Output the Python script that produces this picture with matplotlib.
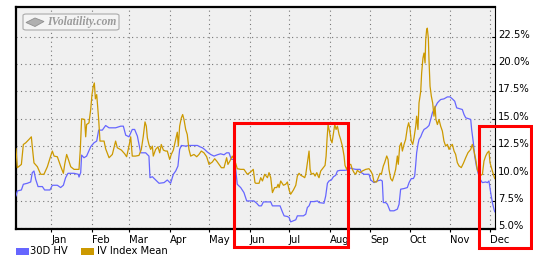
import numpy as np
import pandas as pd
import matplotlib
matplotlib.use("Agg")
import matplotlib.pyplot as plt
from matplotlib.patches import Rectangle, FancyBboxPatch, Polygon
from matplotlib.transforms import ScaledTranslation

# days counted from 2010-12-05, values in %
hv_day = [0, 1, 4.1, 5.6, 8.6, 11.2, 12.4, 13.7, 15.0, 16.8, 20.1, 21.8, 25.9, 27.7, 31.5, 34.0, 36.1,
          37.8, 39.6, 44.2, 47.5, 48.0, 49.3, 50.0, 51.8, 53.8, 56.9, 59.4, 61.5, 63.0, 65.8, 68.3,
          70.9, 75.9, 79.8, 81.8, 83.6, 86.1, 88.6, 90.4, 92.5, 95.0, 98.8, 101.3, 102.1, 103.9,
          106.4, 109.0, 112.8, 115.3, 117.8, 119.9, 121.7, 123.4, 124.7, 126.0, 129.3, 131.8, 135.6,
          138.2, 140.2, 142.0, 143.7, 145.8, 148.3, 150.9, 153.4, 155.9, 158.5, 160.5, 162.3, 164.1,
          166.1, 167.4, 168.6, 171.2, 173.7, 175.8, 178.8, 181.3, 183.4, 185.2, 187.0, 188.5, 191.6,
          194.1, 195.4, 197.9, 201.2, 203.0, 204.3, 206.8, 208.1, 209.3, 211.4, 213.2, 214.4, 217.0,
          219.0, 220.8, 222.0, 223.3, 224.6, 227.1, 229.7, 230.9, 234.7, 236.0, 237.3, 238.5, 240.3,
          241.9, 243.6, 244.9, 246.9, 250.0, 252.5, 253.8, 256.3, 258.9, 262.2, 263.2, 265.2, 269.0,
          270.3, 272.8, 275.3, 277.9, 279.1, 279.9, 281.7, 283.0, 285.0, 288.0, 290.6, 291.9, 293.1,
          295.7, 298.2, 299.5, 301.2, 302.8, 303.8, 304.6, 305.3, 306.3, 307.1, 308.4, 309.6, 310.9,
          312.9, 314.7, 316.0, 317.3, 318.5, 319.8, 321.1, 322.3, 323.6, 326.1, 328.7, 330.7, 332.5,
          334.3, 335.8, 338.3, 340.1, 341.4, 342.7, 345.2, 346.5, 347.2, 348.5, 349.5, 350.8, 352.0,
          353.5, 355.4, 357.9, 359.2, 360.4, 361.7, 363.0, 364.2, 364.8]
hv_val = [7.97, 8.42, 8.51, 9.03, 9.12, 9.24, 10.09, 10.24, 9.48, 8.82, 8.82, 8.51, 8.51, 8.94, 8.94,
          8.73, 8.94, 9.63, 10.03, 10.03, 9.94, 9.69, 10.09, 11.69, 11.45, 11.6, 12.45, 12.81, 12.97,
          13.97, 13.97, 14.39, 14.18, 14.18, 14.33, 14.33, 13.51, 13.36, 14.03, 14.03, 13.42, 11.9,
          11.9, 11.6, 9.63, 9.72, 9.42, 9.12, 9.18, 9.42, 9.12, 9.94, 10.24, 10.69, 12.21, 12.57,
          12.51, 12.57, 12.57, 12.57, 12.45, 12.36, 12.21, 11.97, 11.75, 11.6, 11.72, 11.81, 11.72,
          11.9, 11.9, 11.3, 11.3, 10.39, 9.03, 8.73, 8.27, 7.51, 7.51, 7.51, 7.3, 7.06, 7.06, 7.42,
          7.42, 7.42, 7.06, 7.06, 7.06, 6.51, 6.15, 6.09, 6.0, 5.6, 5.7, 5.79, 6.15, 6.15, 6.15, 6.3,
          6.91, 7.06, 7.45, 7.45, 7.51, 7.36, 7.3, 7.97, 9.12, 9.33, 9.42, 9.72, 9.85, 10.24, 10.3,
          10.3, 10.33, 10.54, 10.45, 10.39, 10.39, 10.09, 9.94, 9.94, 9.42, 9.18, 9.33, 9.42, 9.33,
          7.36, 7.36, 7.21, 6.61, 6.61, 6.76, 7.21, 8.58, 8.64, 8.73, 9.18, 9.55, 9.55, 9.79, 10.85,
          11.91, 12.67, 13.12, 13.36, 13.73, 14.03, 14.18, 14.39, 14.94, 15.55, 15.85, 16.15, 16.45,
          16.61, 16.76, 16.82, 17.0, 17.0, 16.82, 16.61, 16.0, 15.91, 15.85, 15.39, 15.09, 15.0,
          14.94, 14.03, 12.82, 11.61, 10.7, 10.09, 9.5, 9.18, 9.24, 9.18, 9.33, 8.27, 7.36, 6.76, 6.52]

iv_day = [0, 1.0, 4.1, 5.6, 7.4, 9.9, 11.7, 12.4, 13.7, 16.3, 18.8, 21.3, 23.9, 26.4, 27.7, 29.0,
          31.5, 34.0, 36.1, 37.1, 38.6, 39.9, 41.7, 44.2, 48.0, 49.0, 50.0, 52.3, 53.1, 53.8, 55.6,
          56.9, 57.9, 58.9, 59.7, 60.5, 61.5, 62.2, 63.0, 64.0, 67.1, 68.3, 70.9, 73.4, 75.9, 77.2,
          80.3, 82.8, 84.3, 86.1, 87.4, 88.6, 91.0, 93.7, 95.5, 97.0, 98.3, 99.3, 100.1, 101.3,
          102.6, 103.9, 104.6, 106.4, 108.2, 109.5, 110.7, 112.3, 114.0, 115.3, 117.1, 118.3, 119.9,
          121.7, 122.9, 123.7, 124.7, 126.0, 127.0, 128.0, 129.3, 130.5, 131.8, 133.1, 135.6, 137.7,
          139.4, 141.2, 143.2, 145.3, 147.1, 149.6, 151.4, 152.9, 154.7, 156.5, 158.5, 160.5, 161.5,
          163.0, 164.8, 166.1, 167.4, 168.6, 171.2, 173.7, 176.3, 178.8, 180.8, 182.1, 182.7, 185.2,
          186.5, 187.8, 189.5, 191.6, 192.8, 194.1, 195.4, 197.1, 198.7, 199.7, 200.5, 201.7, 203.8,
          205.5, 206.8, 208.1, 209.3, 211.4, 213.2, 214.4, 215.7, 217.0, 219.0, 220.0, 220.8, 222.0,
          223.3, 224.1, 225.1, 226.6, 227.9, 229.2, 230.2, 230.9, 232.2, 234.2, 235.5, 236.3, 237.0,
          237.8, 238.8, 239.8, 240.8, 241.9, 242.9, 243.9, 244.9, 246.2, 247.4, 248.7, 250.0, 250.7,
          252.0, 253.3, 255.1, 256.3, 257.6, 258.9, 260.1, 262.2, 263.9, 266.5, 269.0, 270.3, 271.6,
          272.8, 274.8, 275.8, 277.4, 278.4, 279.9, 280.9, 282.5, 283.5, 284.2, 285.5, 286.8, 288.0,
          289.3, 290.6, 291.3, 292.4, 293.6, 294.4, 295.7, 296.9, 298.2, 299.2, 300.2, 301.2, 302.3,
          303.3, 304.6, 305.3, 306.3, 307.1, 308.4, 309.1, 310.1, 310.9, 311.7, 312.2, 312.9, 313.4,
          314.2, 314.7, 315.5, 316.5, 317.5, 318.5, 319.3, 320.0, 321.1, 322.3, 323.6, 324.9, 326.1,
          327.4, 328.7, 330.0, 331.2, 332.5, 333.8, 335.0, 336.3, 337.6, 339.3, 340.9, 342.7, 344.4,
          346.5, 347.7, 349.0, 350.3, 351.5, 353.5, 355.4, 356.6, 357.9, 359.2, 360.4, 361.2, 363.0,
          364.8]
iv_val = [12.27, 10.54, 10.84, 12.66, 12.81, 13.12, 13.36, 12.45, 10.98, 10.63, 9.94, 9.94, 10.63,
          11.6, 12.06, 11.6, 11.54, 10.69, 10.03, 10.84, 11.75, 11.3, 10.63, 10.39, 10.39, 12.21,
          15.0, 14.94, 13.36, 14.48, 14.63, 15.84, 17.21, 17.97, 18.27, 16.82, 17.21, 16.15, 14.94,
          12.97, 12.97, 12.27, 11.45, 11.75, 12.97, 12.36, 12.15, 11.81, 11.54, 12.51, 13.36, 11.6,
          11.6, 11.66, 12.21, 13.42, 14.72, 14.33, 13.27, 12.66, 12.21, 12.51, 11.6, 12.21, 12.45,
          11.9, 12.66, 12.15, 12.06, 12.06, 11.3, 11.75, 12.15, 13.12, 13.78, 12.51, 14.33, 15.09,
          15.39, 14.94, 14.03, 13.57, 12.21, 11.6, 11.75, 11.54, 11.75, 12.06, 11.9, 11.54, 10.84,
          11.06, 11.36, 11.15, 10.84, 10.54, 10.54, 11.45, 10.84, 11.15, 11.6, 11.3, 10.94, 10.45,
          10.39, 10.39, 9.94, 10.15, 10.39, 9.18, 9.12, 9.12, 9.63, 9.33, 9.94, 9.63, 10.09, 9.63,
          8.27, 8.73, 8.73, 9.03, 8.73, 9.33, 8.94, 9.03, 9.24, 8.51, 8.12, 8.51, 8.94, 9.78, 10.03,
          9.85, 9.72, 9.63, 9.94, 10.99, 12.06, 10.39, 9.94, 10.03, 9.78, 10.09, 9.78, 9.63, 10.24,
          10.54, 10.75, 11.6, 13.12, 14.48, 13.88, 13.12, 12.81, 13.72, 14.48, 14.03, 14.33, 13.57,
          13.12, 12.51, 11.6, 10.75, 10.39, 10.84, 10.84, 10.39, 10.09, 9.94, 10.3, 10.09, 10.24,
          10.39, 10.45, 10.24, 9.94, 9.25, 9.24, 9.55, 10.03, 9.94, 10.7, 11.0, 11.61, 11.3, 10.39,
          9.55, 9.33, 9.79, 10.39, 11.61, 10.85, 12.51, 12.82, 12.06, 12.67, 13.12, 14.18, 14.64,
          14.09, 12.97, 12.67, 13.27, 14.33, 15.24, 14.03, 16.45, 17.51, 19.18, 20.55, 21.0, 20.09,
          22.21, 23.12, 23.27, 22.36, 20.39, 17.97, 17.06, 16.45, 15.24, 16.15, 14.94, 14.48, 14.94,
          14.33, 13.88, 12.97, 12.51, 12.67, 12.21, 12.51, 12.67, 12.06, 11.76, 11.0, 10.7, 10.55,
          10.94, 11.46, 11.91, 12.21, 12.67, 12.06, 11.3, 10.39, 9.8, 9.94, 11.15, 11.61, 11.91,
          12.06, 11.0, 10.24, 9.55]

month_labels = ["Jan", "Feb", "Mar", "Apr", "May", "Jun", "Jul", "Aug", "Sep", "Oct", "Nov", "Dec"]
y_ticks = [5.0, 7.5, 10.0, 12.5, 15.0, 17.5, 20.0, 22.5]

start = pd.Timestamp("2010-12-05")
hv_dates = start + pd.to_timedelta(hv_day, unit="D")
iv_dates = start + pd.to_timedelta(iv_day, unit="D")
month_ticks = pd.date_range("2011-01-01", periods=12, freq="MS")

plt.rcParams["font.family"] = ["DejaVu Sans"]
W, H = 533, 259
fig = plt.figure(figsize=(W / 100, H / 100), dpi=100)


def fx(x):
    return x / W


def fy(y):
    return 1 - y / H


ax = fig.add_axes([fx(16), fy(229), fx(495 - 16), (229 - 7) / H])
ax.set_facecolor("#f0f0f0")
ax.plot(hv_dates, hv_val, color="#6666ff", lw=0.9, zorder=3)
ax.plot(iv_dates, iv_val, color="#cc9900", lw=0.9, zorder=4)

ax.set_xlim(start, start + pd.Timedelta(days=365))
ax.set_ylim(4.95, 25.2)
ax.set_xticks(month_ticks)
ax.set_xticklabels(month_labels, ha="left")
ax.set_yticks(y_ticks)
ax.set_yticklabels([f"{v:.1f}%" for v in y_ticks])
ax.yaxis.tick_right()
ax.tick_params(axis="x", direction="out", length=2, width=0.8, pad=2, labelsize=7.2)
ax.tick_params(axis="y", direction="in", length=2, width=0.8, pad=2, labelsize=7.2)
lift = ScaledTranslation(0, 3 / 100, fig.dpi_scale_trans)
for lab in ax.get_yticklabels():
    lab.set_transform(lab.get_transform() + lift)
ax.grid(True, color="#777777", linestyle=(0, (1, 3)), linewidth=0.8)
for side in ["left", "top", "bottom"]:
    ax.spines[side].set_linewidth(1.6)
ax.spines["right"].set_linewidth(0.8)

# watermark
box = FancyBboxPatch((fx(23), fy(30)), fx(96), (30 - 14) / H,
                     boxstyle="round,pad=0,rounding_size=0.006",
                     transform=fig.transFigure, facecolor="#f4f4f4",
                     edgecolor="#aaaaaa", lw=0.8, zorder=5)
fig.add_artist(box)
logo = Polygon([(fx(26), fy(22.5)), (fx(35), fy(18)), (fx(44), fy(21.5)), (fx(35), fy(26.5))],
               closed=True, transform=fig.transFigure, facecolor="#b0b0b0",
               edgecolor="#909090", lw=0.6, zorder=6)
fig.add_artist(logo)
fig.text(fx(47), fy(22.3), "IVolatility.com", fontsize=8.3, family="Liberation Serif",
         style="italic", weight="bold", color="#9a9a9a", va="center", zorder=6)

# legend
fig.add_artist(Rectangle((fx(16), fy(255)), fx(13), 7 / H, transform=fig.transFigure,
                         facecolor="#6666ff", edgecolor="none"))
fig.text(fx(30), fy(251.5), "30D HV", fontsize=7.2, va="center")
fig.add_artist(Rectangle((fx(81), fy(255)), fx(13), 7 / H, transform=fig.transFigure,
                         facecolor="#cc9900", edgecolor="none"))
fig.text(fx(97), fy(251.5), "IV Index Mean", fontsize=7.2, va="center")

# red highlight boxes
for x0, y0, x1, y1 in [(234.5, 123, 348, 246.5), (479.5, 125.5, 531.5, 247.5)]:
    fig.add_artist(Rectangle((fx(x0), fy(y1)), fx(x1 - x0), (y1 - y0) / H,
                             transform=fig.transFigure, fill=False,
                             edgecolor="#ff0000", lw=2.2, zorder=10))

fig.savefig("out.png", dpi=100)
